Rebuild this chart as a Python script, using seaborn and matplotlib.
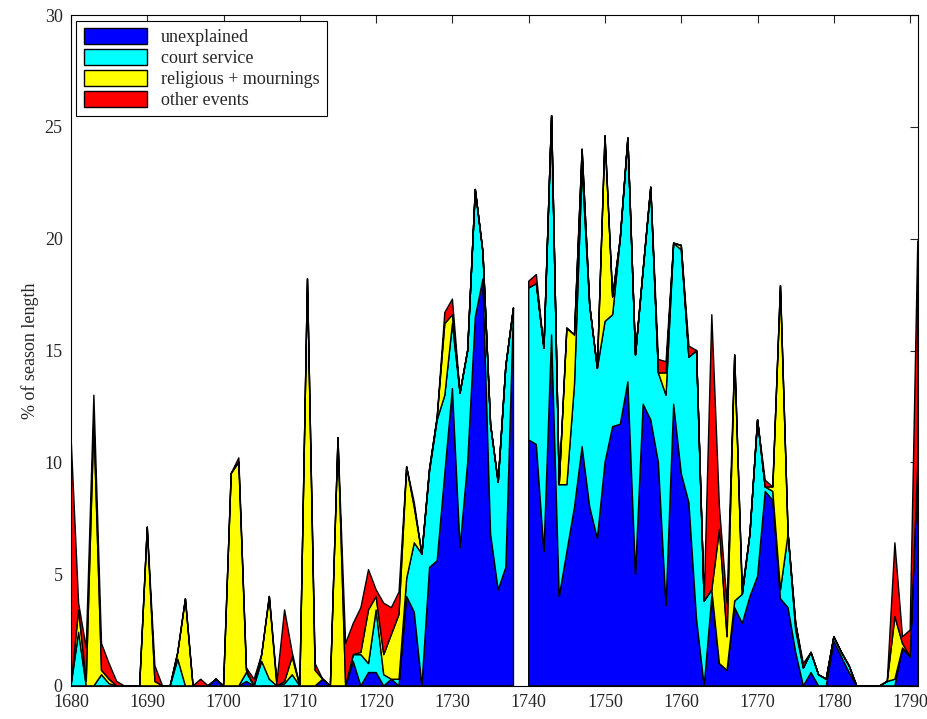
import numpy as np
import matplotlib
matplotlib.use("Agg")
import matplotlib.pyplot as plt
import seaborn as sns

sns.set_style("white")
plt.rcParams["font.family"] = ["Liberation Serif", "DejaVu Serif"]

years = np.arange(1680, 1792)

# one row per year: unexplained, court service, religious + mournings, other events
rows = [
    (0, 0, 0, 11.2), (0, 2.4, 1.0, 0.3), (0, 0, 0.2, 1.5), (0, 0, 11.8, 1.2),
    (0, 0.5, 0.2, 1.2), (0, 0.1, 0.2, 0.7), (0, 0, 0, 0.2), (0, 0, 0, 0),
    (0, 0, 0, 0), (0, 0, 0, 0), (0, 0, 7.1, 0), (0, 0, 0.2, 0.7),
    (0, 0, 0, 0), (0, 0, 0, 0), (0, 1.2, 0.3, 0), (0, 0, 3.9, 0),
    (0, 0, 0, 0), (0, 0, 0, 0.3), (0, 0, 0, 0), (0.3, 0, 0, 0),
    (0, 0, 0, 0), (0, 0, 9.5, 0), (0, 0, 10.0, 0.2), (0.2, 0.4, 0.1, 0.1),
    (0, 0, 0, 0.3), (0, 1.1, 0.3, 0), (0, 0.3, 3.7, 0), (0, 0, 0, 0.2),
    (0, 0.1, 0.1, 3.2), (0, 0.5, 0.8, 0.2), (0, 0, 0, 0), (0, 0, 18.2, 0),
    (0, 0, 0.7, 0.3), (0.3, 0, 0, 0), (0, 0, 0, 0), (0, 0, 11.1, 0),
    (0, 0, 0, 1.9), (1.1, 0.3, 0, 1.4), (0, 1.4, 0.1, 2.0), (0.6, 0.4, 2.4, 1.8),
    (0.6, 2.8, 0.6, 0.3), (0, 0.5, 0.9, 2.3), (0.3, 0, 2.0, 1.2), (0, 0.3, 2.9, 1.0),
    (4.0, 0.8, 5.0, 0), (3.3, 3.1, 1.6, 0.2), (0, 5.9, 0, 0), (5.3, 4.3, 0.1, 0),
    (5.6, 6.3, 0.1, 0), (9.5, 3.5, 3.2, 0.5), (13.3, 2.9, 0.4, 0.7), (6.2, 6.9, 0, 0),
    (10.0, 5.0, 0, 0), (16.5, 5.7, 0, 0), (18.2, 1.2, 0, 0), (6.8, 4.9, 0, 0),
    (4.3, 4.8, 0, 0), (5.3, 9.0, 0, 0), (16.8, 0.1, 0, 0),
    (np.nan, np.nan, np.nan, np.nan),
    (11.0, 6.8, 0, 0.3), (10.8, 7.2, 0, 0.4), (6.0, 9.1, 0, 0), (15.7, 9.8, 0, 0),
    (4.0, 5.0, 0, 0), (6.0, 3.0, 7.0, 0), (8.0, 5.5, 2.2, 0), (10.7, 12.5, 0.8, 0),
    (8.0, 9.0, 0, 0), (6.6, 7.6, 0, 0), (10.0, 6.3, 8.3, 0), (11.6, 5.0, 0.8, 0),
    (11.7, 8.3, 0, 0), (13.6, 10.9, 0, 0), (5.0, 9.8, 0, 0), (12.6, 6.0, 0, 0),
    (11.9, 10.4, 0, 0), (10.0, 4.0, 0, 0.6), (3.6, 9.4, 1.0, 0.5), (12.6, 7.2, 0, 0),
    (9.5, 10.0, 0.2, 0), (8.2, 6.5, 0, 0.5), (3.0, 12.0, 0, 0), (0, 3.8, 0, 0),
    (4.0, 0.3, 0, 12.3), (1.0, 0, 6.0, 1.0), (0.7, 0, 1.5, 1.5), (3.5, 0.3, 11.0, 0),
    (2.8, 1.3, 0, 0.2), (4.0, 2.8, 0, 0), (4.9, 7.0, 0, 0), (8.7, 0.2, 0, 0.3),
    (8.3, 0.4, 0.2, 0), (3.9, 0.4, 13.6, 0), (3.5, 3.3, 0, 0), (1.5, 1.0, 0.3, 0),
    (0, 0.8, 0, 0.2), (0.6, 0.9, 0, 0), (0, 0.5, 0, 0), (0, 0.3, 0, 0),
    (2.0, 0.2, 0, 0), (1.3, 0.2, 0, 0), (0.6, 0.3, 0, 0), (0, 0, 0, 0),
    (0, 0, 0, 0), (0, 0, 0, 0), (0, 0, 0, 0), (0, 0.2, 0, 0),
    (0, 0.3, 2.8, 3.3), (1.7, 0, 0.2, 0.3), (1.3, 0, 0, 1.2), (10.0, 0, 0, 9.9),
]
data = np.array(rows).T
unexplained, court, religious, other = data

labels = ["unexplained", "court service", "religious + mournings", "other events"]
colors = ["#0000ff", "#00ffff", "#ffff00", "#ff0000"]

fig = plt.figure(figsize=(9.28, 7.19), dpi=100)
ax = fig.add_axes([0.0765, 0.046, 0.9125, 0.933])
ax.stackplot(years, unexplained, court, religious, other, labels=labels,
             colors=colors, edgecolor="black", linewidth=1.0)

ax.set_xlim(1680, 1791)
ax.set_ylim(0, 30)
ax.set_xticks(range(1680, 1791, 10))
ax.set_yticks(range(0, 31, 5))
ax.set_ylabel("% of season length", fontsize=13)
ax.tick_params(direction="in", labelsize=13, top=True, right=True, length=6)
ax.tick_params(axis="x", pad=6)
ax.tick_params(axis="y", pad=6)
for s in ax.spines.values():
    s.set_color("black")
    s.set_linewidth(0.8)

leg = ax.legend(loc="upper left", fontsize=13, fancybox=False, framealpha=1,
                edgecolor="black", borderaxespad=0.3, handlelength=3.5,
                handleheight=1.0, labelspacing=0.15)
leg.get_frame().set_linewidth(0.8)

fig.savefig("out.png", dpi=100)
